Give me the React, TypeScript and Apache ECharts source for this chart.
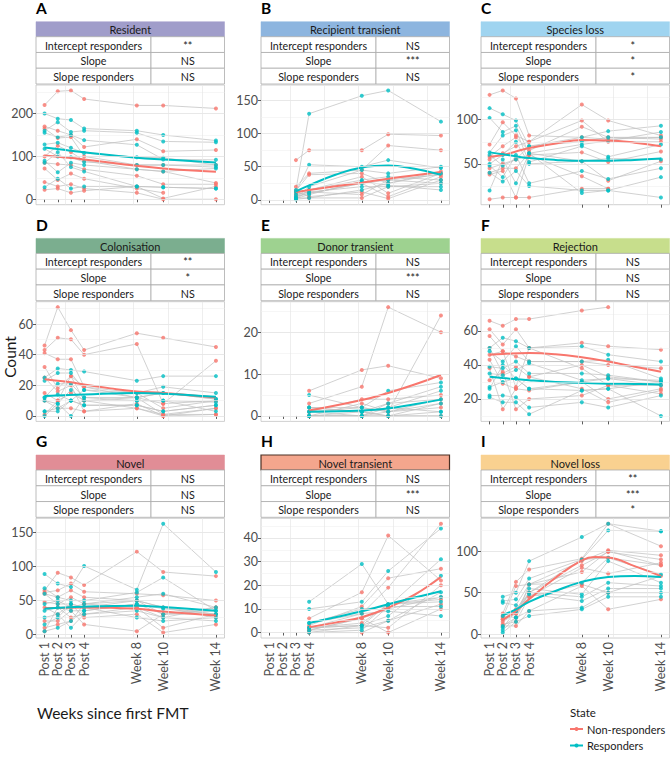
import React, { useEffect, useRef } from "react";
import * as echarts from "echarts";

const TIMES = [1, 2, 3, 4, 8, 10, 14];
const TIME_LABELS = ["Post 1", "Post 2", "Post 3", "Post 4", "Week 8", "Week 10", "Week 14"];
const X_GRID = [2.55, 5.15, 7.75, 10.35, 12.95];
const STATE_NAMES = ["Non-responders", "Responders"];
const STATE_COLORS = ["#F8766D", "#00BFC4"];
const SUBJECT_STATE = [0, 0, 0, 0, 0, 0, 0, 0, 1, 1, 1, 1, 1, 1, 1, 1];
const ROW_LABELS = ["Intercept responders", "Slope", "Slope responders"];
const PANEL_LETTERS = ["A", "B", "C", "D", "E", "F", "G", "H", "I"];
const PANEL_TITLES = ["Resident", "Recipient transient", "Species loss", "Colonisation", "Donor transient", "Rejection", "Novel", "Novel transient", "Novel loss"];
const HEADER_COLORS = ["#A09DCA", "#8DB5DF", "#9FD4F0", "#7BAE8F", "#9ED290", "#C7DE8C", "#E18D96", "#F4A68D", "#F9D190"];
const SIGNIFICANCE = [
  ["**", "NS", "NS"], ["NS", "***", "NS"], ["*", "*", "*"],
  ["**", "*", "NS"], ["NS", "***", "NS"], ["NS", "NS", "NS"],
  ["NS", "NS", "NS"], ["NS", "***", "NS"], ["**", "***", "*"],
];
const Y_TICKS = [
  [0, 100, 200], [0, 50, 100, 150], [50, 100],
  [0, 20, 40, 60], [0, 10, 20], [20, 40, 60],
  [0, 50, 100, 150], [0, 10, 20, 30, 40], [0, 50, 100],
];

const _ = null;
// counts per subject at TIMES (rows 0-7 non-responders, 8-15 responders)
const residentCounts = [
  [220, 252, 254, 234, 219, 219, 212],
  [170, 160, 150, 122, 140, 112, 115],
  [165, 143, 145, 100, 80, 80, 80],
  [100, 125, 110, 90, 70, 65, 38],
  [85, 82, 80, 70, 55, 35, 35],
  [72, 45, 60, 48, 25, 15, _],
  [40, 30, 35, 25, 15, 0, 0],
  [22, 25, 15, 20, 30, 2, 30],
  [200, 188, 185, 165, 160, 150, 137],
  [160, 180, 157, 160, 155, 135, 133],
  [155, 145, 150, 138, 127, 93, 92],
  [128, 132, 120, 108, 98, 97, 80],
  [118, 100, 98, 87, 80, 80, 75],
  [90, 63, 85, 80, 70, 65, 72],
  [85, 110, 75, 65, 30, 28, 25],
  [28, 48, 25, 30, 30, 28, 25],
];
const recipientTransientCounts = [
  [_, _, 60, 75, 75, 99, 97],
  [_, _, 20, 40, 45, 82, 75],
  [_, _, 14, 38, 40, 25, 43],
  [_, _, 10, 15, 35, 10, 40],
  [_, _, 5, 10, 25, 5, 35],
  [_, _, 12, 5, 12, 2, 30],
  [_, _, 8, 12, 8, 30, 38],
  [_, _, 3, 3, 3, 20, 25],
  [_, _, 15, 130, 157, 165, 118],
  [_, _, 12, 53, 50, 60, 48],
  [_, _, 3, 20, 45, 40, 50],
  [_, _, 1, 15, 30, 35, 30],
  [_, _, 5, 10, 25, 30, 25],
  [_, _, 8, 12, 20, 20, 20],
  [_, _, 2, 8, 28, 22, 15],
  [_, _, 1, 3, 15, 25, 40],
];
const speciesLossCounts = [
  [128, 133, 124, 82, 80, 78, 80],
  [72, 97, 82, 75, 117, 99, 82],
  [58, 70, 80, 65, 92, 80, 78],
  [55, 62, 70, 75, 99, 75, 75],
  [45, 50, 55, 60, 63, 52, 64],
  [40, 45, 45, 62, 53, 31, 53],
  [38, 42, 12, 60, 36, 22, _],
  [10, 12, 12, 12, 22, 22, _],
  [113, 106, 99, 70, 80, 87, 93],
  [102, 86, 93, 62, 72, 76, 86],
  [63, 82, 88, 52, 70, 58, 72],
  [50, 60, 75, 50, 53, 56, 55],
  [48, 35, 60, 28, 42, 33, 45],
  [40, 30, 42, 25, 20, 20, 35],
  [20, 55, 28, 62, 17, 20, 12],
  [60, 48, 55, 70, 75, 80, 80],
];
const colonisationCounts = [
  [46, 71, 56, 43, 54, 51, 45],
  [43, 51, 50, 40, 47, 8, 36],
  [41, 37, 37, 19, 15, 5, 10],
  [32, 18, 26, 10, 12, 1, 5],
  [25, 16, 20, 3, 8, 0, 1],
  [15, 10, 15, 10, 5, 0, 5],
  [10, 5, 5, 3, 5, 1, 1],
  [1, 10, 26, 19, 12, 8, 10],
  [25, 31, 30, 29, 23, 26, 26],
  [23, 28, 28, 17, 15, 19, 15],
  [12, 21, 21, 12, 12, 15, 11],
  [10, 8, 17, 10, 10, 10, 9],
  [3, 3, 10, 7, 7, 3, 7],
  [0, 8, 0, 12, 10, 10, 3],
  [12, 14, 10, 17, 12, 15, 11],
  [3, 5, 10, 7, 7, 3, 7],
];
const donorTransientCounts = [
  [_, _, _, 6, 11, 12, 9],
  [_, _, _, 3, 7, 26, 20],
  [_, _, _, 1, 4, 4, 5],
  [_, _, _, 0, 3, 1, 24],
  [_, _, _, 2, 1, 0, 3],
  [_, _, _, 0, 0, 3, 4],
  [_, _, _, 1, 2, 1, 2],
  [_, _, _, 0, 0, 0, 0],
  [_, _, _, 5, 2, 6, 8],
  [_, _, _, 2, 1, 3, 7],
  [_, _, _, 1, 1, 2, 6],
  [_, _, _, 0, 0, 1, 4],
  [_, _, _, 1, 0, 0, 1],
  [_, _, _, 0, 1, 0, 0],
  [_, _, _, 2, 2, 1, 3],
  [_, _, _, 0, 0, 2, 1],
];
const rejectionCounts = [
  [66, 63, 67, 67, 72, 74, _],
  [61, 52, 61, 50, 53, 51, 49],
  [57, 48, 45, 42, 42, 40, 38],
  [50, 35, 39, 33, 40, 33, 30],
  [46, 48, 27, 50, 38, 28, 28],
  [43, 29, 26, 25, 30, 20, 26],
  [38, 14, 26, 33, 26, 18, 25],
  [31, 36, 14, 20, 22, 28, 23],
  [50, 56, 54, 50, 51, 46, 42],
  [48, 42, 51, 42, 42, 43, 32],
  [39, 38, 42, 35, 35, 34, 30],
  [35, 34, 37, 41, 31, 32, 28],
  [27, 30, 32, 26, 25, 26, 30],
  [22, 22, 21, 15, 18, 15, 22],
  [21, 18, 18, 11, 25, 26, 10],
  [26, 40, 32, 26, 30, 32, 31],
];
const novelCounts = [
  [65, 91, 84, 73, 122, 92, 86],
  [62, 65, 75, 63, 60, 58, 50],
  [60, 55, 65, 55, 50, 30, 40],
  [48, 45, 55, 45, 40, 10, 30],
  [40, 30, 45, 25, 30, 3, 15],
  [20, 20, 35, 15, 5, 30, 30],
  [10, 15, 20, 45, 50, 40, 25],
  [5, 40, 25, 30, 40, 25, 40],
  [89, 75, 70, 101, 66, 163, 92],
  [68, 55, 50, 50, 62, 84, 35],
  [60, 45, 45, 40, 50, 40, 30],
  [35, 40, 35, 35, 45, 30, 35],
  [25, 30, 10, 30, 35, 25, 20],
  [15, 25, 45, 40, 25, 20, 25],
  [5, 10, 20, 35, 45, 38, 30],
  [45, 50, 40, 45, 55, 60, 40],
];
const novelTransientCounts = [
  [_, _, _, 6, 17, 41, 22],
  [_, _, _, 3, 11, 23, 27],
  [_, _, _, 2, 8, 19, 46],
  [_, _, _, 1, 6, 10, 15],
  [_, _, _, 0, 0, 5, 12],
  [_, _, _, 0, 3, 2, 20],
  [_, _, _, 1, 6, 0, 10],
  [_, _, _, 2, 4, 12, 14],
  [_, _, _, 13, 29, 12, 13],
  [_, _, _, 10, 13, 26, 44],
  [_, _, _, 4, 10, 11, 31],
  [_, _, _, 2, 3, 7, 24],
  [_, _, _, 1, 2, 5, 17],
  [_, _, _, 0, 1, 11, 11],
  [_, _, _, 4, 8, 9, 7],
  [_, _, _, 2, 3, 12, 15],
];
const novelLossCounts = [
  [_, 25, 63, 78, 91, 133, 106],
  [_, 20, 58, 60, 88, 101, 95],
  [_, 18, 30, 50, 83, 99, 90],
  [_, 15, 25, 45, 80, 73, 86],
  [_, 22, 20, 60, 75, 100, 83],
  [_, 12, 15, 45, 60, 50, 70],
  [_, 10, 10, 28, 58, 30, 42],
  [_, 18, 25, 50, 90, 92, 83],
  [_, 45, 50, 88, 117, 133, 124],
  [_, 40, 42, 67, 90, 125, 124],
  [_, 38, 35, 60, 62, 92, 72],
  [_, 22, 28, 55, 48, 88, 62],
  [_, 10, 20, 50, 45, 62, 58],
  [_, 8, 28, 48, 40, 55, 55],
  [_, 5, 20, 28, 32, 50, 50],
  [_, 2, 15, 22, 30, 45, 45],
];

// fitted trend per state: [week, value]
const residentFitNon = [[1, 102], [4, 93], [8, 78], [10, 72], [14, 64]];
const residentFitResp = [[1, 121], [4, 110], [8, 97], [10, 93], [14, 86]];
const recipientTransientFitNon = [[3, 12], [4, 15], [8, 26], [10, 32], [14, 42]];
const recipientTransientFitResp = [[3, 13], [4, 22], [6, 38], [8, 49], [10, 52], [12, 47], [14, 38]];
const speciesLossFitNon = [[1, 58], [2, 60], [3, 64], [4, 68], [6, 73], [8, 77], [10, 76.5], [12, 74], [14, 70]];
const speciesLossFitResp = [[1, 63], [2, 61], [3, 58.5], [4, 56.5], [6, 54.5], [8, 53.5], [10, 53.5], [12, 54.5], [14, 56]];
const colonisationFitNon = [[1, 24], [2, 23], [3, 22], [4, 20.5], [6, 18], [8, 16], [10, 15], [12, 13.5], [14, 12]];
const colonisationFitResp = [[1, 13], [4, 14], [8, 15], [10, 14.5], [14, 12.5]];
const donorTransientFitNon = [[4, 1.3], [8, 3.8], [10, 5.5], [12, 7.5], [14, 9.8]];
const donorTransientFitResp = [[4, 1], [8, 1.3], [10, 1.8], [12, 2.8], [14, 3.9]];
const rejectionFitNon = [[1, 46], [2, 46.5], [4, 47], [6, 46.3], [8, 44.5], [10, 42], [12, 39], [14, 36]];
const rejectionFitResp = [[1, 33], [2, 32.3], [4, 31], [6, 30], [8, 29.5], [10, 29], [12, 28.8], [14, 28.5]];
const novelFitNon = [[1, 39], [4, 40], [8, 38], [10, 34], [14, 28]];
const novelFitResp = [[1, 38], [4, 41], [8, 42.5], [10, 40.5], [14, 35]];
const novelTransientFitNon = [[4, 2.3], [6, 4.2], [8, 6.5], [10, 10.5], [12, 16], [14, 23.5]];
const novelTransientFitResp = [[4, 4], [6, 6.5], [8, 9], [10, 12], [12, 14.8], [14, 17.5]];
const novelLossFitNon = [[2, 17], [3, 28], [4, 42], [6, 68], [8, 89], [9, 93], [10, 92.5], [12, 82], [14, 70]];
const novelLossFitResp = [[2, 23], [3, 30], [4, 39], [6, 52], [8, 63], [10, 69], [12, 70], [14, 69]];

const COUNTS = [residentCounts, recipientTransientCounts, speciesLossCounts, colonisationCounts, donorTransientCounts, rejectionCounts, novelCounts, novelTransientCounts, novelLossCounts];
const FITS_NON = [residentFitNon, recipientTransientFitNon, speciesLossFitNon, colonisationFitNon, donorTransientFitNon, rejectionFitNon, novelFitNon, novelTransientFitNon, novelLossFitNon];
const FITS_RESP = [residentFitResp, recipientTransientFitResp, speciesLossFitResp, colonisationFitResp, donorTransientFitResp, rejectionFitResp, novelFitResp, novelTransientFitResp, novelLossFitResp];

// layout
const FONT = "Lato, 'Open Sans', sans-serif";
const COL_LEFT = [36, 261, 481];
const ROW_TOP = [0, 216.7, 433.3];
const PANEL_W = 188.5;
const HEADER_Y = 21.7;
const HEADER_H = 15;
const ROW_H = 15.77;
const PLOT_TOP = 85;
const PLOT_H = 119.7;
const DIVIDER = 0.61;

function buildOption() {
  const grids: any[] = [];
  const xAxes: any[] = [];
  const yAxes: any[] = [];
  const series: any[] = [];
  const graphic: any[] = [];

  const txt = (x: number, y: number, text: string, size: number, opts: any = {}) => ({
    type: "text",
    x,
    y,
    rotation: opts.rotation || 0,
    z: 10,
    style: {
      text,
      fill: opts.fill || "#1a1a1a",
      font: `${opts.weight || "normal"} ${size}px ${FONT}`,
      align: opts.align || "center",
      verticalAlign: "middle",
      textAlign: opts.align || "center",
      textVerticalAlign: "middle",
    },
  });

  for (let k = 0; k < 9; k++) {
    const c = k % 3;
    const r = Math.floor(k / 3);
    const x0 = COL_LEFT[c];
    const y0 = ROW_TOP[r];
    const counts = COUNTS[k];
    const fitN = FITS_NON[k];
    const fitR = FITS_RESP[k];

    const vals: number[] = [];
    counts.forEach((s) => s.forEach((v) => v != null && vals.push(v)));
    const lo = Math.min(...vals);
    const hi = Math.max(...vals);
    const pad = (hi - lo) * 0.05;
    const yMin = lo - pad;
    const yMax = hi + pad;
    const ticks = Y_TICKS[k];
    const step = ticks[1] - ticks[0];
    const minor: number[] = [];
    for (let v = ticks[0] - step / 2; v <= yMax; v += step) if (v >= yMin) minor.push(v);

    grids.push({
      left: x0,
      top: y0 + PLOT_TOP,
      width: PANEL_W,
      height: PLOT_H,
      show: true,
      borderColor: "#c4c4c4",
      borderWidth: 0.8,
      backgroundColor: "transparent",
      containLabel: false,
      outerBoundsMode: "none",
    });
    const bottomRow = r === 2;
    xAxes.push({
      type: "value",
      gridIndex: k,
      min: 0.35,
      max: 14.65,
      axisLine: { show: false },
      splitLine: { show: false },
      axisTick: { show: true, customValues: TIMES, length: 3, lineStyle: { color: "#333", width: 0.8 } },
      axisLabel: {
        show: bottomRow,
        customValues: TIMES,
        rotate: 90,
        margin: 4,
        fontSize: 12.5,
        fontFamily: FONT,
        color: "#4d4d4d",
        formatter: (v: number) => TIME_LABELS[TIMES.indexOf(v)] || "",
      },
    });
    yAxes.push({
      type: "value",
      gridIndex: k,
      min: yMin,
      max: yMax,
      axisLine: { show: false },
      splitLine: { show: false },
      axisTick: { show: true, customValues: ticks, length: 3, lineStyle: { color: "#333", width: 0.8 } },
      axisLabel: { customValues: ticks, margin: 3, fontSize: 12.5, fontFamily: FONT, color: "#4d4d4d" },
    });

    // background grid lines
    const mk: any[] = [];
    minor.forEach((v) => mk.push({ yAxis: v, lineStyle: { color: "#f0f0f0", width: 0.6, type: "solid" } }));
    ticks.forEach((v) => mk.push({ yAxis: v, lineStyle: { color: "#e2e2e2", width: 0.8, type: "solid" } }));
    X_GRID.forEach((v) => mk.push({ xAxis: v, lineStyle: { color: "#e6e6e6", width: 0.7, type: "solid" } }));
    series.push({
      type: "line",
      xAxisIndex: k,
      yAxisIndex: k,
      data: [],
      silent: true,
      z: 1,
      markLine: {
        silent: true,
        symbol: ["none", "none"],
        label: { show: false },
        emphasis: { disabled: true },
        animation: false,
        data: mk,
      },
    });

    // subject lines
    counts.forEach((s) => {
      const d: number[][] = [];
      s.forEach((v, i) => v != null && d.push([TIMES[i], v]));
      series.push({
        type: "line",
        xAxisIndex: k,
        yAxisIndex: k,
        data: d,
        symbol: "none",
        silent: true,
        z: 2,
        lineStyle: { color: "#c2c2c2", width: 0.75 },
      });
    });
    // points by state
    [0, 1].forEach((st) => {
      const d: number[][] = [];
      counts.forEach((s, j) => {
        if (SUBJECT_STATE[j] !== st) return;
        s.forEach((v, i) => v != null && d.push([TIMES[i], v]));
      });
      series.push({
        type: "scatter",
        name: STATE_NAMES[st],
        xAxisIndex: k,
        yAxisIndex: k,
        data: d,
        symbol: "circle",
        symbolSize: 4,
        silent: true,
        z: 3,
        itemStyle: { color: STATE_COLORS[st] },
      });
    });
    // fitted trends
    [fitN, fitR].forEach((f, st) => {
      series.push({
        type: "line",
        xAxisIndex: k,
        yAxisIndex: k,
        data: f,
        smooth: 0.45,
        symbol: "none",
        silent: true,
        z: 4,
        lineStyle: { color: STATE_COLORS[st], width: 2 },
      });
    });

    // letter
    graphic.push(txt(x0, y0 + 8, PANEL_LETTERS[k], 15.5, { align: "left", weight: "bold", fill: "#000" }));
    // table header
    graphic.push({
      type: "rect",
      z: 9,
      shape: { x: x0, y: y0 + HEADER_Y, width: PANEL_W, height: HEADER_H },
      style: { fill: HEADER_COLORS[k], stroke: k === 7 ? "#4a3024" : HEADER_COLORS[k], lineWidth: k === 7 ? 1.2 : 0.5 },
    });
    graphic.push(txt(x0 + PANEL_W / 2, y0 + HEADER_Y + HEADER_H / 2 + 0.5, PANEL_TITLES[k], 11));
    const divX = x0 + PANEL_W * DIVIDER;
    for (let i = 0; i < 3; i++) {
      const ry = y0 + HEADER_Y + HEADER_H + i * ROW_H;
      graphic.push({
        type: "rect",
        z: 9,
        shape: { x: x0, y: ry, width: divX - x0, height: ROW_H },
        style: { fill: "#fff", stroke: "#ababab", lineWidth: 0.8 },
      });
      graphic.push({
        type: "rect",
        z: 9,
        shape: { x: divX, y: ry, width: x0 + PANEL_W - divX, height: ROW_H },
        style: { fill: "#fff", stroke: "#ababab", lineWidth: 0.8 },
      });
      graphic.push(txt((x0 + divX) / 2, ry + ROW_H / 2 + 0.5, ROW_LABELS[i], 10.7));
      graphic.push(txt((divX + x0 + PANEL_W) / 2, ry + ROW_H / 2 + 0.5, SIGNIFICANCE[k][i], 10.7));
    }
  }

  // axis titles
  graphic.push(txt(10, 357, "Count", 15.5, { rotation: Math.PI / 2 }));
  graphic.push(txt(37, 713, "Weeks since first FMT", 15.5, { align: "left" }));
  // legend
  graphic.push(txt(570, 712, "State", 11.5, { align: "left" }));
  [0, 1].forEach((st) => {
    const ly = 729 + st * 16.5;
    graphic.push({ type: "line", z: 10, shape: { x1: 570, y1: ly, x2: 583, y2: ly }, style: { stroke: STATE_COLORS[st], lineWidth: 2 } });
    graphic.push({ type: "circle", z: 11, shape: { cx: 576.5, cy: ly, r: 2 }, style: { fill: STATE_COLORS[st] } });
    graphic.push(txt(587, ly, STATE_NAMES[st], 11, { align: "left" }));
  });

  return {
    animation: false,
    backgroundColor: "#fff",
    grid: grids,
    xAxis: xAxes,
    yAxis: yAxes,
    series,
    graphic,
  };
}

export default function App() {
  const ref = useRef<HTMLDivElement>(null);
  useEffect(() => {
    document.body.style.margin = "0";
    if (!ref.current) return;
    const chart = echarts.init(ref.current, undefined, { renderer: "svg" });
    chart.setOption(buildOption() as any);
    return () => chart.dispose();
  }, []);
  return <div ref={ref} style={{ width: 670, height: 758 }} />;
}
